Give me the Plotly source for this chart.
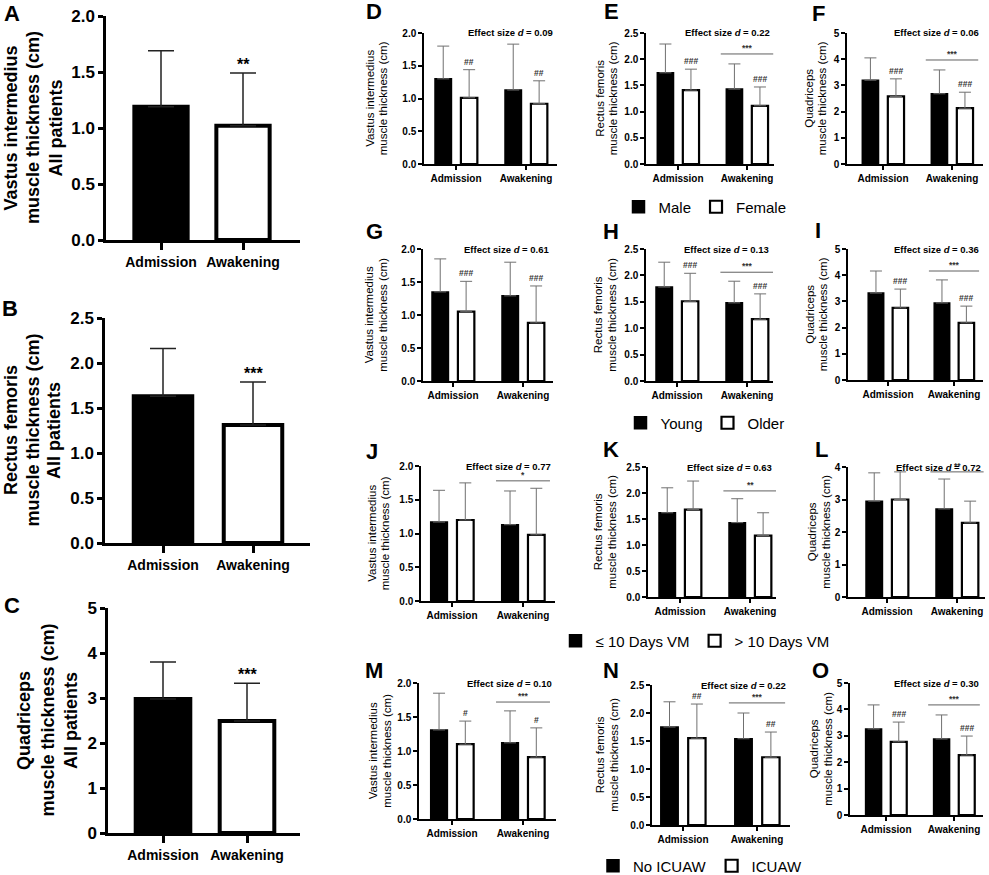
import plotly.graph_objects as go

W, H = 989, 875
FONT = "Liberation Sans, Arial, sans-serif"

categories = ["Admission", "Awakening"]
x_pos = [0, 1]

# A-C: all patients, mean and SD (cm)
a_mean = [1.19, 1.02]
a_sd = [0.50, 0.47]
b_mean = [1.63, 1.31]
b_sd = [0.53, 0.48]
c_mean = [2.98, 2.49]
c_sd = [0.82, 0.84]
left_stars = ["**", "***", "***"]

# D-F: male (black) vs female (white)
d_black = [1.30, 1.13]
d_black_sd = [0.50, 0.70]
d_white = [1.01, 0.92]
d_white_sd = [0.43, 0.35]
e_black = [1.74, 1.43]
e_black_sd = [0.55, 0.48]
e_white = [1.41, 1.11]
e_white_sd = [0.40, 0.36]
f_black = [3.20, 2.68]
f_black_sd = [0.85, 0.91]
f_white = [2.58, 2.13]
f_white_sd = [0.67, 0.61]

# G-I: young (black) vs older (white)
g_black = [1.35, 1.29]
g_black_sd = [0.50, 0.51]
g_white = [1.05, 0.88]
g_white_sd = [0.46, 0.56]
h_black = [1.78, 1.48]
h_black_sd = [0.47, 0.41]
h_white = [1.51, 1.17]
h_white_sd = [0.53, 0.48]
i_black = [3.32, 2.94]
i_black_sd = [0.84, 0.88]
i_white = [2.75, 2.18]
i_white_sd = [0.72, 0.64]

# J-L: <=10 days VM (black) vs >10 days VM (white)
j_black = [1.17, 1.13]
j_black_sd = [0.47, 0.50]
j_white = [1.20, 0.98]
j_white_sd = [0.55, 0.69]
k_black = [1.62, 1.43]
k_black_sd = [0.48, 0.46]
k_white = [1.68, 1.18]
k_white_sd = [0.55, 0.44]
l_black = [2.95, 2.71]
l_black_sd = [0.87, 0.92]
l_white = [3.00, 2.28]
l_white_sd = [0.85, 0.67]

# M-O: no ICUAW (black) vs ICUAW (white)
m_black = [1.31, 1.12]
m_black_sd = [0.54, 0.47]
m_white = [1.10, 0.91]
m_white_sd = [0.34, 0.43]
n_black = [1.75, 1.54]
n_black_sd = [0.45, 0.46]
n_white = [1.55, 1.21]
n_white_sd = [0.61, 0.45]
o_black = [3.26, 2.88]
o_black_sd = [0.91, 0.91]
o_white = [2.77, 2.27]
o_white_sd = [0.75, 0.72]

effect_sizes = [0.09, 0.22, 0.06, 0.61, 0.13, 0.36, 0.77, 0.63, 0.72, 0.10, 0.22, 0.30]
hash_marks = ["##", "###", "###", "###", "###", "###", "", "", "", "#", "##", "###"]
sig_stars = ["", "***", "***", "", "***", "***", "*", "**", "**", "***", "***", "***"]
sig_levels = [None, 2.10, 3.97, None, 2.06, 4.16, 1.78, 2.04, 3.85, 1.72, 2.18, 4.17]
group_names = [("Male", "Female"), ("Young", "Older"),
               ("≤ 10 Days VM", "> 10 Days VM"), ("No ICUAW", "ICUAW")]

left_titles = [["Vastus intermedius", "muscle thickness (cm)", "All patients"],
               ["Rectus femoris", "muscle thickness (cm)", "All patients"],
               ["Quadriceps", "muscle thickness (cm)", "All patients"]]
right_titles = [["Vastus intermedius", "muscle thickness (cm)"],
                ["Rectus femoris", "muscle thickness (cm)"],
                ["Quadriceps", "muscle thickness (cm)"]]

# pixel layout: left axis, admission tick, awakening tick, right end, top, bottom
left_geo = [(106, 161, 243, 300, 16, 240),
            (105, 163, 253, 310, 318, 543),
            (108, 163, 247, 300, 608, 833)]
right_geo = [(424, 456, 526, 557, 33, 164), (646, 678, 747, 774, 33, 164), (847, 883, 952, 983, 33, 164),
             (423, 453, 523, 553, 249, 381), (646, 677, 747, 773, 249, 381), (848, 888, 954, 983, 249, 380),
             (421, 452, 523, 555, 466, 601), (648, 680, 750, 776, 467, 597), (848, 887, 957, 985, 467, 597),
             (419, 452, 523, 556, 683, 819), (652, 683, 757, 790, 685, 825), (850, 886, 954, 983, 683, 815)]
# centre of the stacked title lines, and the distance between lines
left_title_x = [33, 32, 47]
left_pitch = [22.5, 21.5, 23.5]
right_title_x = [377, 607, 816, 376, 605, 816, 378, 605, 819, 380, 607, 821]
RIGHT_PITCH = 13.5
letter_pos = [(12, 13), (10, 308), (12, 605),
              (374, 12), (611, 12), (818, 13),
              (374, 232), (611, 232), (818, 230),
              (372, 451), (611, 450), (821, 450),
              (374, 670), (611, 670), (820, 670)]
legend_pos = [(705, 207), (705, 423), (695, 641), (700, 866)]

fig = go.Figure()
annotations = []
shapes = []


def set_axes(n, geo, yrange, dtick, fmt, title_lines, title_x, pitch, big):
    left, adm, awk, right, top, bottom = geo
    unit = awk - adm
    sfx = "" if n == 1 else str(n)
    lw = 2.5 if big else 1.5
    fig.update_layout(**{
        "xaxis" + sfx: dict(
            domain=[left / W, right / W], range=[(left - adm) / unit, (right - adm) / unit],
            anchor="y" + sfx, tickmode="array", tickvals=x_pos, ticktext=categories,
            showline=True, linecolor="black", linewidth=lw, ticks="outside",
            ticklen=7 if big else 4, tickwidth=lw, tickcolor="black", automargin=False,
            tickfont=dict(family=FONT, size=14 if big else 10, color="black", weight="bold"),
            showgrid=False, zeroline=False),
        "yaxis" + sfx: dict(
            domain=[1 - bottom / H, 1 - top / H], range=yrange, anchor="x" + sfx,
            dtick=dtick, tick0=0, tickformat=fmt, automargin=False,
            showline=True, linecolor="black", linewidth=lw, ticks="outside",
            ticklen=5 if big else 4, tickwidth=lw, tickcolor="black",
            tickfont=dict(family=FONT, size=17 if big else 10, color="black", weight="bold"),
            showgrid=False, zeroline=False),
    })
    # rotated y-axis title, one annotation per line
    nl = len(title_lines)
    for i, line in enumerate(title_lines):
        annotations.append(dict(
            x=(title_x + (i - (nl - 1) / 2) * pitch) / W, y=1 - (top + bottom) / 2 / H,
            xref="paper", yref="paper", text=line, textangle=-90, showarrow=False,
            xanchor="center", yanchor="middle",
            font=dict(family=FONT, size=18 if big else 11.5, color="black",
                      weight="bold" if big else "normal")))
    return sfx


# left column: all patients
left_sets = [(a_mean, a_sd, [0, 2], 0.5, ".1f"),
             (b_mean, b_sd, [0, 2.5], 0.5, ".1f"),
             (c_mean, c_sd, [0, 5], 1, "d")]
for k, (mean, sd, yr, dt, fmt) in enumerate(left_sets):
    n = k + 1
    sfx = set_axes(n, left_geo[k], yr, dt, fmt, left_titles[k], left_title_x[k], left_pitch[k], True)
    fig.add_trace(go.Bar(
        x=x_pos, y=mean, width=0.65, showlegend=False,
        marker=dict(color=["black", "white"], line=dict(color="black", width=4)),
        error_y=dict(type="data", symmetric=False, array=sd, arrayminus=[0, 0],
                     color="#222222", thickness=1.5, width=13),
        xaxis="x" + sfx, yaxis="y" + sfx))
    annotations.append(dict(x=1, y=mean[1] + sd[1], xref="x" + sfx, yref="y" + sfx,
                            text=left_stars[k], showarrow=False, yanchor="bottom", yshift=-2,
                            font=dict(family=FONT, size=16, color="black", weight="bold")))

right_sets = [(d_black, d_black_sd, d_white, d_white_sd),
              (e_black, e_black_sd, e_white, e_white_sd),
              (f_black, f_black_sd, f_white, f_white_sd),
              (g_black, g_black_sd, g_white, g_white_sd),
              (h_black, h_black_sd, h_white, h_white_sd),
              (i_black, i_black_sd, i_white, i_white_sd),
              (j_black, j_black_sd, j_white, j_white_sd),
              (k_black, k_black_sd, k_white, k_white_sd),
              (l_black, l_black_sd, l_white, l_white_sd),
              (m_black, m_black_sd, m_white, m_white_sd),
              (n_black, n_black_sd, n_white, n_white_sd),
              (o_black, o_black_sd, o_white, o_white_sd)]

BAR_W = 0.235
BLACK_OFF = -0.30
WHITE_OFF = 0.07

for k, (blk, blk_sd, wht, wht_sd) in enumerate(right_sets):
    n = k + 4
    row, col = divmod(k, 3)
    if col == 0:
        yr, dt, fmt = [0, 2], 0.5, ".1f"
    elif col == 1:
        yr, dt, fmt = [0, 2.5], 0.5, ".1f"
    else:
        yr, dt, fmt = ([0, 4] if k == 8 else [0, 5]), 1, "d"
    sfx = set_axes(n, right_geo[k], yr, dt, fmt, right_titles[col], right_title_x[k], RIGHT_PITCH, False)
    leg = "legend" if row == 0 else "legend%d" % (row + 1)
    show = col == 0
    err = dict(type="data", symmetric=False, color="#707070", thickness=1, width=6)
    fig.add_trace(go.Bar(
        x=x_pos, y=blk, width=BAR_W, offset=BLACK_OFF, name=group_names[row][0],
        showlegend=show, legend=leg,
        marker=dict(color="black", line=dict(color="black", width=1.5)),
        error_y=dict(err, array=blk_sd, arrayminus=[0, 0]),
        xaxis="x" + sfx, yaxis="y" + sfx))
    fig.add_trace(go.Bar(
        x=x_pos, y=wht, width=BAR_W, offset=WHITE_OFF, name=group_names[row][1],
        showlegend=show, legend=leg,
        marker=dict(color="white", line=dict(color="black", width=2.2)),
        error_y=dict(err, array=wht_sd, arrayminus=[0, 0]),
        xaxis="x" + sfx, yaxis="y" + sfx))
    if hash_marks[k]:
        for i in x_pos:
            annotations.append(dict(
                x=i + WHITE_OFF + BAR_W / 2, y=wht[i] + wht_sd[i], xref="x" + sfx, yref="y" + sfx,
                text=hash_marks[k], showarrow=False, yanchor="bottom", yshift=1,
                font=dict(family=FONT, size=8.5, color="#333333", weight="bold")))
    if sig_levels[k] is not None:
        shapes.append(dict(type="line", xref="x" + sfx, yref="y" + sfx,
                           x0=1 - 0.38, x1=1 + 0.38, y0=sig_levels[k], y1=sig_levels[k],
                           line=dict(color="#606060", width=1)))
        annotations.append(dict(x=1, y=sig_levels[k], xref="x" + sfx, yref="y" + sfx,
                                text=sig_stars[k], showarrow=False, yanchor="bottom", yshift=-1,
                                font=dict(family=FONT, size=8.5, color="#333333", weight="bold")))
    annotations.append(dict(x=1, y=1, xref="x" + sfx + " domain", yref="y" + sfx + " domain",
                            text="Effect size <i>d</i> = %.2f" % effect_sizes[k], showarrow=False,
                            xanchor="right", yanchor="middle", xshift=-2,
                            font=dict(family=FONT, size=9.5, color="black", weight="bold")))

for idx, (lx, ly) in enumerate(letter_pos):
    annotations.append(dict(x=lx / W, y=1 - ly / H, xref="paper", yref="paper",
                            text=chr(ord("A") + idx), showarrow=False,
                            xanchor="center", yanchor="middle",
                            font=dict(family=FONT, size=22, color="black", weight="bold")))

legends = {}
for r, (lx, ly) in enumerate(legend_pos):
    key = "legend" if r == 0 else "legend%d" % (r + 1)
    legends[key] = dict(orientation="h", x=lx / W, y=1 - ly / H, xanchor="center", yanchor="middle",
                        font=dict(family=FONT, size=15, color="black"), bgcolor="rgba(0,0,0,0)",
                        traceorder="normal", itemwidth=30)

fig.update_layout(
    width=W, height=H, margin=dict(l=0, r=0, t=0, b=0, pad=0, autoexpand=False),
    paper_bgcolor="white", plot_bgcolor="white",
    barmode="overlay", annotations=annotations, shapes=shapes,
    font=dict(family=FONT, color="black"),
    **legends)

fig.write_html("out.html", config={"displayModeBar": False},
               post_script="document.body.style.margin = '0px';")
